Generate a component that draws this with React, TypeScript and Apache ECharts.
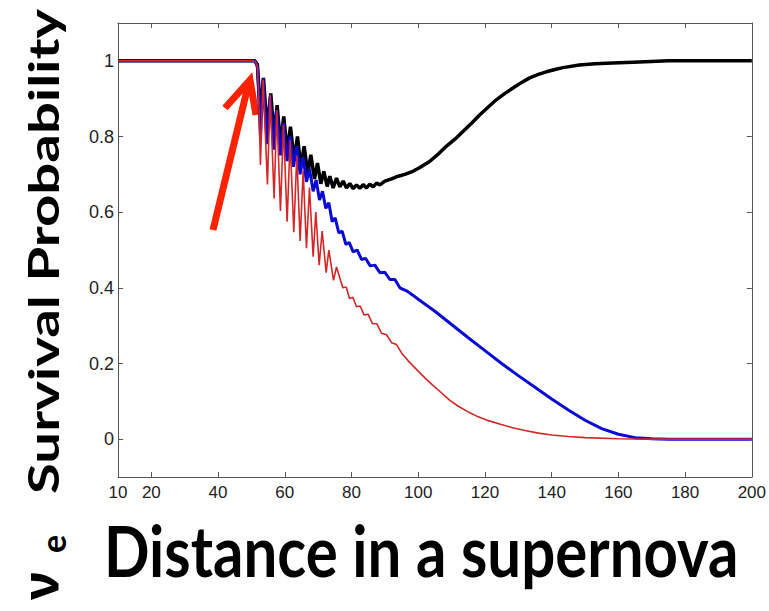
import React, { useEffect, useRef } from "react";
import * as echarts from "echarts";

const xLabelValues = [10, 20, 40, 60, 80, 100, 120, 140, 160, 180, 200];
const xTickValues = [20, 40, 60, 80, 100, 120, 140, 160, 180];
const yLabelValues = [0, 0.2, 0.4, 0.6, 0.8, 1];

const blackX = [10, 51, 51.8, 52.7, 53.6, 54.7, 55.8, 56.8, 57.7, 58.7, 59.7, 60.7, 61.7, 62.8, 63.8, 64.8, 65.8, 66.9, 67.8, 68.9, 69.8, 70.8, 71.7, 72.7, 73.5, 74.5, 75.5, 76.5, 77.5, 78.5, 79.5, 80.5, 81.5, 82.5, 83.5, 84.5, 85.5, 86.5, 87.5, 88.5, 90, 92, 94, 96, 98.4, 100.5, 103.4, 105.8, 108.4, 111, 113.4, 116, 118.4, 121, 123.4, 126, 128.4, 131, 133.4, 136, 138.4, 141, 143.4, 148.3, 153, 158.3, 166.3, 175, 200];
const blackY = [1, 1, 0.99, 0.86, 0.955, 0.82, 0.914, 0.8, 0.883, 0.78, 0.853, 0.76, 0.826, 0.738, 0.8, 0.72, 0.774, 0.703, 0.752, 0.688, 0.73, 0.675, 0.708, 0.668, 0.695, 0.664, 0.69, 0.667, 0.682, 0.664, 0.676, 0.662, 0.672, 0.663, 0.673, 0.664, 0.674, 0.667, 0.677, 0.672, 0.682, 0.688, 0.695, 0.7, 0.708, 0.718, 0.734, 0.752, 0.774, 0.793, 0.813, 0.835, 0.857, 0.878, 0.897, 0.914, 0.928, 0.943, 0.955, 0.964, 0.971, 0.977, 0.982, 0.989, 0.992, 0.994, 0.997, 1, 1];

const blueX = [10, 51, 51.8, 52.7, 53.5, 54.7, 55.6, 56.7, 57.6, 58.7, 59.6, 60.7, 61.6, 62.6, 63.6, 64.6, 65.5, 66.5, 67.4, 68.5, 69.4, 70.4, 71.3, 72.3, 73.2, 74.2, 75.1, 76.2, 77.2, 78.3, 79.3, 80.5, 81.7, 83, 84.2, 85.6, 87, 88.5, 90, 91.5, 93, 94.5, 96.5, 98.5, 100, 105, 110, 115, 120, 125, 130, 135, 140, 145, 150, 155, 160, 165, 170, 175, 200];
const blueY = [1, 1, 0.985, 0.8, 0.953, 0.78, 0.905, 0.765, 0.87, 0.75, 0.835, 0.735, 0.8, 0.72, 0.775, 0.7, 0.745, 0.68, 0.715, 0.655, 0.685, 0.632, 0.655, 0.61, 0.625, 0.575, 0.585, 0.545, 0.55, 0.515, 0.52, 0.495, 0.5, 0.475, 0.478, 0.458, 0.46, 0.44, 0.441, 0.422, 0.422, 0.4, 0.392, 0.38, 0.37, 0.338, 0.303, 0.268, 0.234, 0.2, 0.168, 0.137, 0.106, 0.077, 0.05, 0.028, 0.013, 0.004, 0.001, 0, 0];

const redX = [10, 50.5, 51.3, 51.8, 52.1, 52.7, 53.5, 54.8, 55.6, 56.8, 57.6, 58.7, 59.6, 60.7, 61.6, 62.7, 63.6, 64.6, 65.5, 66.5, 67.4, 68.5, 69.3, 70.3, 71.2, 72.4, 73.2, 74.6, 75.5, 77.4, 78.4, 79.4, 80.4, 81.5, 82.6, 83.8, 85, 86.3, 87.6, 89, 90.5, 92, 93.5, 95, 97, 99.4, 102, 104.4, 107, 109.4, 112, 115, 118, 121, 124.4, 128, 132, 136, 140, 145, 150, 160, 170, 200];
const redY = [1, 1, 0.997, 0.985, 0.93, 0.725, 0.95, 0.673, 0.91, 0.636, 0.87, 0.603, 0.83, 0.575, 0.79, 0.547, 0.75, 0.524, 0.71, 0.505, 0.665, 0.482, 0.6, 0.46, 0.55, 0.44, 0.5, 0.42, 0.455, 0.4, 0.402, 0.372, 0.375, 0.35, 0.352, 0.328, 0.33, 0.305, 0.305, 0.28, 0.276, 0.255, 0.25, 0.228, 0.207, 0.185, 0.162, 0.142, 0.122, 0.103, 0.087, 0.072, 0.059, 0.049, 0.04, 0.031, 0.023, 0.016, 0.011, 0.007, 0.004, 0.001, 0, 0];

const pairs = (xs: number[], ys: number[]) => xs.map((x, i) => [x, ys[i]]);

const AXIS = "#555";

export default function App() {
  const ref = useRef<HTMLDivElement>(null);
  useEffect(() => {
    const chart = echarts.init(ref.current!, null, { renderer: "svg" });
    const xBase = {
      type: "value",
      min: 10,
      max: 200,
      splitLine: { show: false },
      axisLine: { show: true, onZero: false, lineStyle: { color: AXIS, width: 1 } },
      axisTick: { show: true, inside: true, length: 5, customValues: xTickValues, lineStyle: { color: AXIS } },
    };
    const yBase = {
      type: "value",
      min: -0.1,
      max: 1.1,
      splitLine: { show: false },
      axisLine: { show: true, onZero: false, lineStyle: { color: AXIS, width: 1 } },
      axisTick: { show: true, inside: true, length: 5, customValues: yLabelValues, lineStyle: { color: AXIS } },
    };
    chart.setOption({
      animation: false,
      backgroundColor: "#fff",
      grid: { left: 118, right: 16, top: 23, bottom: 134, containLabel: false },
      xAxis: [
        {
          ...xBase,
          position: "bottom",
          axisLabel: {
            customValues: xLabelValues,
            color: "#222",
            fontSize: 17,
            fontFamily: "Liberation Sans, Arial, sans-serif",
            margin: 7,
          },
        },
        { ...xBase, position: "top", axisLabel: { show: false } },
      ],
      yAxis: [
        {
          ...yBase,
          position: "left",
          axisLabel: {
            customValues: yLabelValues,
            color: "#222",
            fontSize: 18,
            fontFamily: "Liberation Sans, Arial, sans-serif",
            margin: 4,
            formatter: (v: number) => String(v),
          },
        },
        { ...yBase, position: "right", axisLabel: { show: false } },
      ],
      series: [
        {
          type: "line",
          data: pairs(blackX, blackY),
          showSymbol: false,
          lineStyle: { color: "#000", width: 3.5 },
          itemStyle: { color: "#000" },
        },
        {
          type: "line",
          data: pairs(blueX, blueY),
          showSymbol: false,
          lineStyle: { color: "#0a0ad2", width: 3 },
          itemStyle: { color: "#0a0ad2" },
        },
        {
          type: "line",
          data: pairs(redX, redY),
          showSymbol: false,
          lineStyle: { color: "#d42626", width: 1.6 },
          itemStyle: { color: "#d42626" },
        },
      ],
      graphic: [
        {
          type: "line",
          shape: { x1: 213, y1: 230, x2: 248, y2: 86 },
          style: { stroke: "#ff2200", lineWidth: 7 },
        },
        {
          type: "polyline",
          shape: { points: [[225, 108], [250, 80], [256, 115]] },
          style: { stroke: "#ff2200", lineWidth: 7, fill: null, lineJoin: "miter" },
        },
        {
          type: "text",
          x: 104,
          y: 549,
          scaleY: 1.18,
          style: {
            text: "Distance in a supernova",
            fill: "#000",
            font: "bold 60px Lato, 'Noto Sans', sans-serif",
            textAlign: "left",
            textVerticalAlign: "middle",
          },
        },
        {
          type: "text",
          x: 43,
          y: 494,
          rotation: Math.PI / 2,
          scaleX: 1.28,
          scaleY: 0.95,
          style: {
            text: "Survival Probability",
            fill: "#000",
            font: "bold 44px Lato, 'Noto Sans', sans-serif",
            textAlign: "left",
            textVerticalAlign: "middle",
          },
        },
        {
          type: "text",
          x: 52,
          y: 544,
          rotation: Math.PI / 2,
          style: {
            text: "e",
            fill: "#000",
            font: "bold 34px Lato, 'Noto Sans', sans-serif",
            textAlign: "center",
            textVerticalAlign: "middle",
          },
        },
        {
          type: "text",
          x: 40,
          y: 586,
          rotation: Math.PI / 2,
          style: {
            text: "ν",
            fill: "#000",
            font: "bold 50px 'Noto Sans', 'DejaVu Sans', sans-serif",
            textAlign: "center",
            textVerticalAlign: "middle",
          },
        },
      ],
    });
    return () => chart.dispose();
  }, []);
  return (
    <div
      ref={ref}
      style={{ position: "absolute", left: 0, top: 0, width: 769, height: 611, background: "#fff" }}
    />
  );
}
